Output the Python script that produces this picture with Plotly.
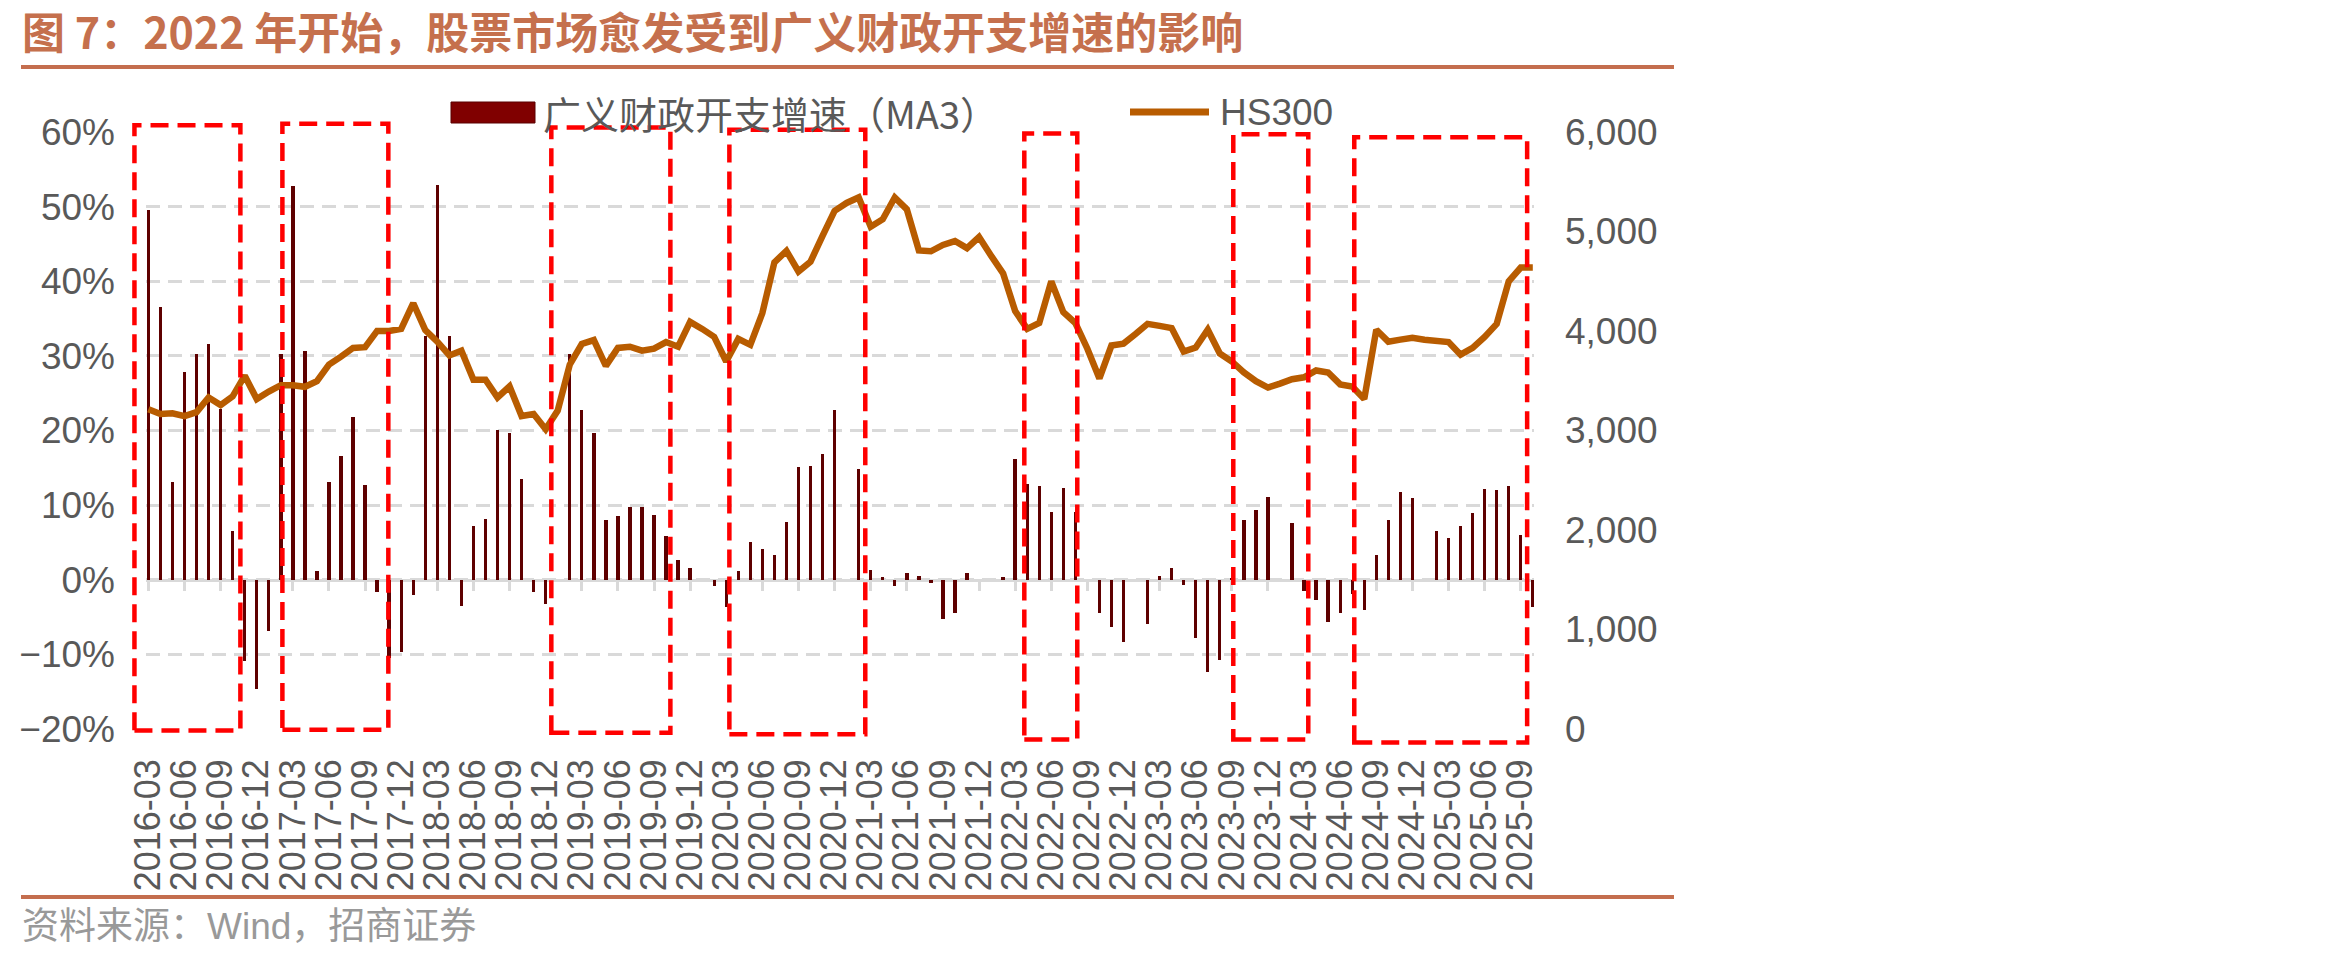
import plotly.graph_objects as go

# ---------------- data ----------------
start_year, start_month, n_months = 2016, 3, 116
months = []
y, m = start_year, start_month
for _ in range(n_months):
    months.append(f"{y}-{m:02d}")
    m += 1
    if m > 12:
        m = 1
        y += 1

tick_labels = [mm for mm in months if mm.endswith(("-03", "-06", "-09", "-12"))]
tick_labels = [t for t in tick_labels if t <= "2025-09"]

fiscal_ma3 = [
    49.6, 36.5, 13.1, 27.8, 30.3, 31.6, 22.9, 6.6, -10.9, -14.7,
    -6.9, 30.2, 52.8, 30.7, 1.2, 13.1, 16.6, 21.8, 12.7, -1.6,
    -10.5, -9.7, -2.1, 32.7, 52.9, 32.7, -3.5, 7.2, 8.1, 20.1,
    19.6, 13.5, -1.7, -3.3, None, 30.3, 22.8, 19.7, 8.0, 8.5,
    9.7, 9.8, 8.7, 5.9, 2.7, 1.6, None, -0.9, -3.6, 1.2,
    5.1, 4.1, 3.3, 7.8, 15.1, 15.3, 16.9, 22.7, None, 14.8,
    1.3, 0.4, -0.9, 0.9, 0.5, -0.5, -5.2, -4.5, 0.9, None,
    None, 0.4, 16.2, 12.8, 12.6, 9.1, 12.3, 9.1, None, -4.4,
    -6.3, -8.4, None, -5.9, 0.5, 1.6, -0.7, -7.8, -12.4, -10.7,
    0.2, 8.0, 9.3, 11.1, None, 7.6, -1.5, -2.7, -5.6, -4.4,
    -1.9, -4.1, 3.3, 8.0, 11.7, 11.0, None, 6.6, 5.6, 7.2,
    9.0, 12.2, 12.0, 12.5, 6.0, -3.7,
]

hs300 = [
    3213, 3165, 3173, 3145, 3185, 3332, 3256, 3344, 3551, 3316,
    3392, 3455, 3455, 3439, 3495, 3662, 3742, 3830, 3838, 4001,
    4001, 4021, 4279, 4009, 3893, 3754, 3802, 3511, 3511, 3332,
    3443, 3145, 3165, 3013, 3200, 3662, 3869, 3909, 3650, 3830,
    3842, 3802, 3822, 3889, 3842, 4092, 4021, 3941, 3694, 3921,
    3861, 4180, 4690, 4805, 4598, 4697, 4956, 5207, 5287, 5342,
    5048, 5123, 5342, 5223, 4809, 4801, 4865, 4904, 4833, 4944,
    4757, 4578, 4200, 4021, 4080, 4498, 4190, 4080, 3822, 3523,
    3854, 3873, 3969, 4072, 4052, 4029, 3794, 3833, 4013, 3774,
    3694, 3583, 3495, 3432, 3471, 3515, 3535, 3603, 3583, 3463,
    3443, 3316, 4013, 3893, 3913, 3933, 3913, 3893, 3889, 3762,
    3830, 3941, 4072, 4498, 4638, 4638,
]

# highlighted periods: (x start, x end in month index units, y bottom, y top in %)
boxes = [
    (-1.16, 7.64, -20.2, 60.9),
    (11.13, 19.93, -20.1, 61.1),
    (33.47, 43.36, -20.5, 60.6),
    (48.26, 59.55, -20.7, 60.3),
    (72.76, 77.16, -21.4, 59.8),
    (90.12, 96.35, -21.4, 59.7),
    (100.17, 114.53, -21.8, 59.3),
]

title_text = "图 7：2022 年开始，股票市场愈发受到广义财政开支增速的影响"
source_text = "资料来源：Wind，招商证券"
bar_name = "广义财政开支增速（MA3）"
line_name = "HS300"

# ---------------- layout constants ----------------
W, H = 2350, 958
L, R, T, B = 146, 816, 132, 229
XMIN, XMAX = -0.2, 115.1
YMIN, YMAX = -20, 60
PW, PH = W - L - R, H - T - B

def px(xpix):
    return (xpix - L) / PW

def py(ypix):
    return (H - B - ypix) / PH

BAR_C = "#5E0000"
LINE_C = "#B85C00"
GRID_C = "#D9D9D9"
TXT_C = "#595959"
RULE_C = "#C46E4E"
NUM_FONT = "Liberation Sans, Arial, sans-serif"
CJK_FONT = "Liberation Sans, Noto Sans CJK SC, sans-serif"

fig = go.Figure()
fig.add_trace(go.Bar(
    x=months, y=fiscal_ma3, name=bar_name, width=0.28,
    marker=dict(color=BAR_C, line=dict(width=0)),
    showlegend=False,
))
fig.add_trace(go.Scatter(
    x=months, y=hs300, name=line_name, yaxis="y2", mode="lines",
    line=dict(color=LINE_C, width=6.5), showlegend=False,
))
# helper trace for the category axis drawn through 0%
fig.add_trace(go.Scatter(
    x=months, y=[None] * len(months), xaxis="x2", yaxis="y",
    showlegend=False, hoverinfo="skip", mode="lines",
))

shapes = []
for x0, x1, y0, y1 in boxes:
    shapes.append(dict(
        type="rect", xref="paper", yref="paper",
        x0=(x0 - XMIN) / (XMAX - XMIN), x1=(x1 - XMIN) / (XMAX - XMIN),
        y0=(y0 - YMIN) / (YMAX - YMIN), y1=(y1 - YMIN) / (YMAX - YMIN),
        line=dict(color="#FF0000", width=4.5, dash="18px,9px"),
        layer="above",
    ))
# rules
shapes.append(dict(type="line", xref="paper", yref="paper",
                   x0=px(21), x1=px(1674), y0=py(67), y1=py(67),
                   line=dict(color=RULE_C, width=4)))
shapes.append(dict(type="line", xref="paper", yref="paper",
                   x0=px(21), x1=px(1674), y0=py(897), y1=py(897),
                   line=dict(color=RULE_C, width=4)))
# custom legend symbols
shapes.append(dict(type="rect", xref="paper", yref="paper",
                   x0=px(451), x1=px(535), y0=py(123), y1=py(102),
                   fillcolor="#800000", line=dict(color="#5A0000", width=1)))
shapes.append(dict(type="line", xref="paper", yref="paper",
                   x0=px(1130), x1=px(1209), y0=py(112), y1=py(112),
                   line=dict(color=LINE_C, width=7)))

annotations = [
    dict(text=f"<b>{title_text}</b>", xref="paper", yref="paper",
         x=px(20), y=py(30), xanchor="left", yanchor="middle", showarrow=False,
         font=dict(family="Noto Sans CJK SC, sans-serif", size=43, color="#C5704D")),
    dict(text=source_text, xref="paper", yref="paper",
         x=px(20), y=py(926), xanchor="left", yanchor="middle", showarrow=False,
         font=dict(family=CJK_FONT, size=37, color="#999999")),
    dict(text=bar_name, xref="paper", yref="paper",
         x=px(541), y=py(112), xanchor="left", yanchor="middle", showarrow=False,
         font=dict(family="Noto Sans CJK SC, sans-serif", size=38, color=TXT_C)),
    dict(text=line_name, xref="paper", yref="paper",
         x=px(1218), y=py(112), xanchor="left", yanchor="middle", showarrow=False,
         font=dict(family=NUM_FONT, size=37, color=TXT_C)),
]

fig.update_layout(
    width=W, height=H,
    margin=dict(l=L, r=R, t=T, b=B, pad=0),
    paper_bgcolor="white", plot_bgcolor="white",
    showlegend=False,
    bargap=0,
    xaxis=dict(
        type="category", categoryorder="array", categoryarray=months,
        range=[XMIN, XMAX], tickmode="array", tickvals=tick_labels, ticktext=tick_labels,
        tickangle=-90, showgrid=False, showline=False, ticks="", zeroline=False,
        tickfont=dict(family=NUM_FONT, size=36, color=TXT_C), ticklabelstandoff=22,
    ),
    xaxis2=dict(
        type="category", categoryorder="array", categoryarray=months,
        overlaying="x", anchor="free", position=0.25,
        range=[XMIN, XMAX], tickmode="array", tickvals=tick_labels,
        showticklabels=False, ticks="outside", ticklen=9, tickwidth=3, tickcolor=GRID_C,
        showline=True, linecolor=GRID_C, linewidth=3, showgrid=False, zeroline=False,
        layer="below traces",
    ),
    yaxis=dict(
        range=[YMIN, YMAX], dtick=10, tick0=0, ticksuffix="%",
        showgrid=True, gridcolor=GRID_C, gridwidth=3, griddash="14px,8px",
        zeroline=False, showline=False, ticks="",
        tickfont=dict(family=NUM_FONT, size=37, color=TXT_C), ticklabelstandoff=30,
    ),
    yaxis2=dict(
        range=[0, 6000], dtick=1000, tick0=0, tickformat=",d", overlaying="y", side="right",
        showgrid=False, zeroline=False, showline=False, ticks="",
        tickfont=dict(family=NUM_FONT, size=37, color=TXT_C), ticklabelstandoff=30,
    ),
    shapes=shapes,
    annotations=annotations,
)

fig.write_html("out.html")
